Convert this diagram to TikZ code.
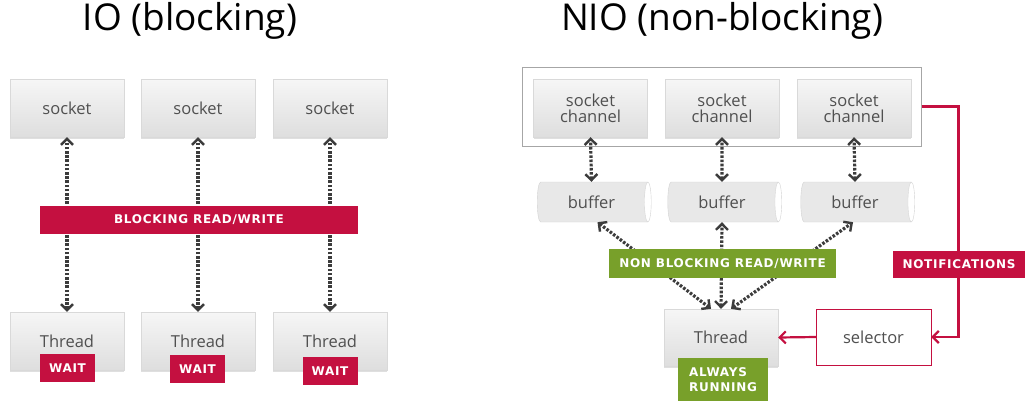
\documentclass[tikz,border=0pt]{standalone}
\usepackage{fontspec}
\setmainfont{Open Sans}
\newfontfamily\tagfont[LetterSpace=6]{DejaVu Sans}
\usetikzlibrary{arrows.meta,shapes.geometric,shadows}

\definecolor{nioRed}{RGB}{196,16,64}
\definecolor{nioGreen}{RGB}{120,160,42}
\definecolor{boxText}{RGB}{80,80,80}
\definecolor{dotGray}{RGB}{60,60,60}

\tikzset{
  barb/.tip={Straight Barb[length=6pt,width=12pt,line width=2.4pt]},
  box/.style={rectangle, minimum width=114pt, minimum height=58pt,
    top color=gray!7, bottom color=gray!26, draw=gray!30,
    drop shadow={shadow xshift=0pt, shadow yshift=-1.5pt, opacity=.25},
    text=boxText, font=\fontsize{16.5}{19}\selectfont, align=center},
  buf/.style={cylinder, shape aspect=0.35, minimum width=40pt, minimum height=114pt,
    cylinder uses custom fill, cylinder body fill=gray!18, cylinder end fill=white,
    draw=gray!35, text=boxText, font=\fontsize{16.5}{19}\selectfont},
  tag/.style={rectangle, fill=#1, text=white, inner sep=0pt,
    font=\tagfont\bfseries\fontsize{12}{14}\selectfont},
  dotarrow/.style={dotGray, line width=3.2pt, dash pattern=on 2.6pt off 1.6pt,
    line cap=butt, barb-barb},
  redline/.style={nioRed, line width=2.2pt}
}

\begin{document}
\begin{tikzpicture}[x=1pt,y=-1pt]

  \useasboundingbox (0,0) rectangle (1032,413);

  % titles
  \node[font=\fontsize{37}{42}\selectfont] (tio) at (190,21) {IO (blocking)};
  \node[font=\fontsize{37}{42}\selectfont] (tnio) at (722,21) {NIO (non-blocking)};

  %% IO (blocking)
  \node[box] (s1) at (67,108) {socket};
  \node[box] (s2) at (198,108) {socket};
  \node[box] (s3) at (330,108) {socket};

  \node[box] (t1) at (67,341) {Thread};
  \node[box] (t2) at (198,341) {Thread};
  \node[box] (t3) at (330,341) {Thread};

  \foreach \i in {1,2,3}
    \draw[dotarrow] (t\i.north) -- (s\i.south);

  \node[tag=nioRed, minimum width=318pt, minimum height=28pt] (brw) at (199,220) {BLOCKING READ/WRITE};

  \node[tag=nioRed, minimum width=55pt, minimum height=28pt] (w1) at (67.5,368) {WAIT};
  \node[tag=nioRed, minimum width=55pt, minimum height=28pt] (w2) at (197.5,369) {WAIT};
  \node[tag=nioRed, minimum width=55pt, minimum height=28pt] (w3) at (330,371) {WAIT};

  %% NIO (non-blocking)
  \node[draw=gray!70, line width=1pt, minimum width=399pt, minimum height=79pt] (frm) at (721.5,106.5) {};

  \node[box] (c1) at (590.5,108) {socket\\[-3pt]channel};
  \node[box] (c2) at (722,108) {socket\\[-3pt]channel};
  \node[box] (c3) at (854,108) {socket\\[-3pt]channel};

  \node[buf] (b1) at (591.5,202) {buffer};
  \node[buf] (b2) at (722,202) {buffer};
  \node[buf] (b3) at (855,202) {buffer};

  \foreach \i in {1,2,3}
    \draw[dotarrow] (b\i.north) -- (c\i.south);

  \node[box, minimum height=57pt] (th) at (721,337.5) {Thread};

  \draw[dotarrow] ([xshift=-10pt]th.north) -- ([xshift=6pt]b1.south);
  \draw[dotarrow] (th.north) -- (b2.south);
  \draw[dotarrow] ([xshift=10pt]th.north) -- ([xshift=-2pt]b3.south);

  \node[tag=nioGreen, minimum width=227pt, minimum height=29pt] (nbrw) at (722.5,263.5) {NON BLOCKING READ/WRITE};
  \node[tag=nioGreen, minimum width=90pt, minimum height=43pt, align=left] (run) at (723,379.5) {ALWAYS\\[1pt]RUNNING};

  \node[draw=nioRed, fill=white, minimum width=115pt, minimum height=56pt,
    text=boxText, font=\fontsize{16.5}{19}\selectfont] (sel) at (873.5,337) {selector};

  \draw[redline, -{Straight Barb[length=6pt,width=12pt]}] (sel.west) -- (th.east);
  \draw[redline, -{Straight Barb[length=6pt,width=12pt]}] (frm.east) -- ++(37,0) |- (sel.east);

  \node[tag=nioRed, minimum width=132pt, minimum height=27pt] (ntf) at (959,264.5) {NOTIFICATIONS};

\end{tikzpicture}
\end{document}
